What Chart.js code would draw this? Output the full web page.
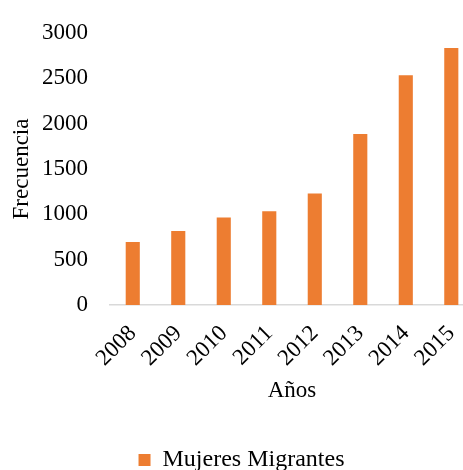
<!DOCTYPE html>
<html>
<head>
<meta charset="utf-8">
<script src="https://cdn.jsdelivr.net/npm/chart.js@4.4.0/dist/chart.umd.min.js"></script>
<style>
  html, body { margin: 0; padding: 0; background: #fff; overflow: hidden; }
  #wrap { width: 463px; height: 470px; overflow: hidden; }
  #box { width: 478px; height: 485px; }
</style>
</head>
<body>
<div id="wrap"><div id="box"><canvas id="myBarChart"></canvas></div></div>
<script>
// Datos
const years = ["2008", "2009", "2010", "2011", "2012", "2013", "2014", "2015"];
const mujeres = [695, 815, 965, 1035, 1230, 1885, 2535, 2835];
const yTicks = [0, 500, 1000, 1500, 2000, 2500, 3000];

const serif = "'Liberation Serif', 'Times New Roman', serif";
Chart.defaults.font.family = serif;
Chart.defaults.color = "#000";

const ctx = document.getElementById("myBarChart").getContext("2d");

new Chart(ctx, {
    type: "bar",
    data: {
        labels: years,
        datasets: [
            {
                label: "Mujeres Migrantes",
                data: mujeres,
                backgroundColor: "#ED7D31",
                borderWidth: 0,
                barPercentage: 0.31,
                categoryPercentage: 1,
            },
        ],
    },
    options: {
        responsive: true,
        maintainAspectRatio: false,
        animation: false,
        layout: { padding: { top: 33, right: 3, bottom: 3, left: 8 } },
        plugins: {
            tooltip: { enabled: false },
            legend: {
                position: "bottom",
                labels: {
                    font: { size: 24 },
                    boxWidth: 12,
                    boxHeight: 12,
                    padding: 4,
                },
            },
        },
        scales: {
            x: {
                grid: { display: false },
                border: { display: true, color: "#d9d9d9", width: 1.5 },
                ticks: {
                    font: { size: 23 },
                    minRotation: 45,
                    maxRotation: 45,
                    padding: 7,
                },
                title: {
                    display: true,
                    text: "Años",
                    font: { size: 23 },
                    padding: { top: 0, bottom: 39 },
                },
                afterFit: (scale) => { scale.height = 139; },
            },
            y: {
                min: 0,
                max: 3000,
                afterBuildTicks: (scale) => {
                    scale.ticks = yTicks.map((v) => ({ value: v }));
                },
                grid: { display: false },
                border: { display: false },
                ticks: {
                    font: { size: 23 },
                    padding: 14,
                    callback: (value) => String(value),
                },
                title: {
                    display: true,
                    text: "Frecuencia",
                    font: { size: 23 },
                    padding: { top: 0, bottom: 0 },
                },
                afterFit: (scale) => { scale.width = 102; },
            },
        },
    },
});
</script>
</body>
</html>
